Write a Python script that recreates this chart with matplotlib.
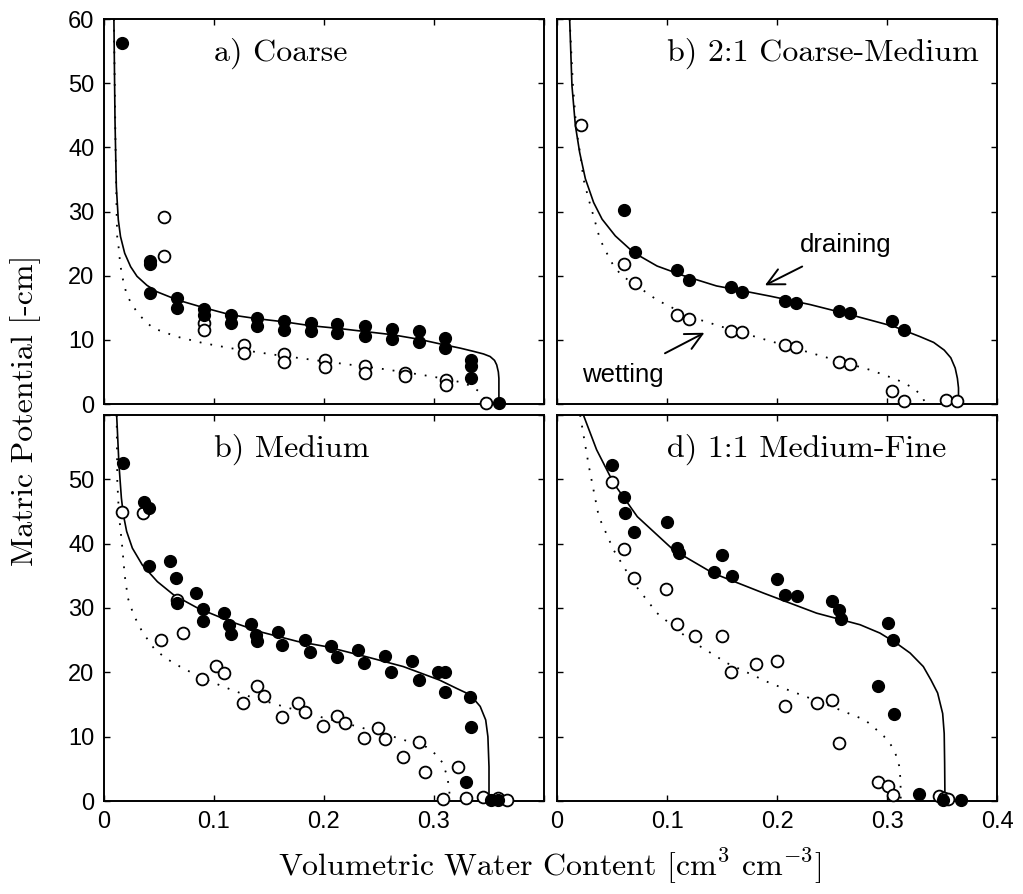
import matplotlib
matplotlib.use("Agg")
import matplotlib.pyplot as plt

plt.rcParams['mathtext.fontset'] = 'cm'
plt.rcParams['axes.unicode_minus'] = False

# ---------------- data ----------------
# a) Coarse
a_dr_x = [0.0167, 0.042, 0.042, 0.042, 0.066, 0.066, 0.091, 0.091, 0.115, 0.115, 0.139, 0.139,
          0.164, 0.164, 0.188, 0.188, 0.212, 0.212, 0.237, 0.237, 0.262, 0.262, 0.286, 0.286,
          0.310, 0.310, 0.334, 0.334, 0.334, 0.359]
a_dr_y = [56.2, 22.3, 21.8, 17.3, 16.5, 14.9, 14.8, 13.9, 13.9, 12.7, 13.4, 12.1,
          13.0, 11.6, 12.6, 11.3, 12.4, 11.1, 12.1, 10.6, 11.7, 10.2, 11.3, 9.7,
          10.3, 8.8, 6.9, 5.9, 4.0, 0.15]
a_wt_x = [0.0545, 0.0545, 0.091, 0.091, 0.127, 0.127, 0.164, 0.164, 0.201, 0.201, 0.237, 0.237,
          0.274, 0.274, 0.311, 0.311, 0.347]
a_wt_y = [29.2, 23.1, 12.7, 11.6, 9.2, 7.9, 7.8, 6.6, 6.9, 5.8, 6.0, 4.9,
          4.9, 4.3, 3.8, 3.0, 0.15]
a_fit_dr_x = [0.009, 0.010, 0.0112, 0.013, 0.015, 0.0188, 0.0242, 0.030, 0.039, 0.048, 0.067, 0.091,
              0.115, 0.139, 0.164, 0.188, 0.212, 0.237, 0.262, 0.286, 0.310, 0.324, 0.336, 0.345,
              0.351, 0.355, 0.357, 0.3585, 0.359, 0.359]
a_fit_dr_y = [60, 44.2, 33.9, 28.7, 26.1, 23.5, 21.4, 19.9, 18.5, 17.5, 16.2, 15.0,
              13.9, 13.3, 12.8, 12.2, 11.8, 11.3, 10.8, 10.1, 9.2, 8.7, 8.2, 7.8,
              7.4, 6.8, 6.1, 5.0, 4.0, 0.0]
a_fit_wt_x = [0.009, 0.0105, 0.0115, 0.012, 0.0136, 0.0145, 0.016, 0.018, 0.0206, 0.025, 0.031,
              0.038, 0.045, 0.066, 0.090, 0.115, 0.154, 0.202, 0.248, 0.287, 0.311, 0.324, 0.334,
              0.343, 0.347, 0.348]
a_fit_wt_y = [60, 40.0, 29.7, 26.1, 24.0, 22.2, 20.4, 18.8, 17.1, 15.6, 14.1,
              12.8, 11.8, 10.5, 9.5, 8.7, 7.7, 6.6, 5.6, 4.6, 3.9, 3.4, 2.8,
              1.7, 0.6, 0.0]

# b) 2:1 Coarse-Medium
b_dr_x = [0.0606, 0.071, 0.109, 0.120, 0.158, 0.168, 0.2076, 0.217, 0.256, 0.266, 0.3045, 0.315]
b_dr_y = [30.2, 23.7, 20.9, 19.4, 18.2, 17.4, 16.1, 15.7, 14.5, 14.2, 13.0, 11.6]
b_wt_x = [0.022, 0.0606, 0.071, 0.109, 0.120, 0.158, 0.168, 0.2076, 0.217, 0.256, 0.266,
          0.3045, 0.315, 0.354, 0.364]
b_wt_y = [43.5, 21.8, 18.9, 13.9, 13.3, 11.4, 11.2, 9.2, 8.9, 6.5, 6.3, 2.0, 0.4, 0.7, 0.4]
b_fit_dr_x = [0.0115, 0.0136, 0.0167, 0.0206, 0.0258, 0.0333, 0.041, 0.053, 0.0697, 0.091, 0.115,
              0.145, 0.170, 0.194, 0.230, 0.267, 0.306, 0.330, 0.3424, 0.352, 0.358, 0.362, 0.364,
              0.365, 0.365]
b_fit_dr_y = [60, 49.6, 43.4, 39.2, 35.1, 31.4, 28.8, 26.2, 23.6, 21.5, 20.0,
              18.4, 17.6, 16.8, 15.5, 13.9, 12.1, 10.5, 9.6, 8.4, 7.2, 5.6, 4.0,
              2.5, 0.0]
b_fit_wt_x = [0.0115, 0.0145, 0.0176, 0.0218, 0.024, 0.0288, 0.034, 0.039, 0.045, 0.0515, 0.059,
              0.0727, 0.091, 0.121, 0.158, 0.200, 0.242, 0.285, 0.309, 0.324, 0.332, 0.335]
b_fit_wt_y = [60, 49.6, 42.8, 38.2, 35.1, 31.9, 28.8, 25.7, 23.6, 21.5, 20.0,
              18.4, 16.2, 13.6, 11.6, 9.5, 7.4, 5.3, 3.8, 2.5, 1.2, 0.0]

# c) Medium
c_dr_x = [0.017, 0.036, 0.041, 0.041, 0.060, 0.065, 0.066, 0.084, 0.090, 0.090, 0.109, 0.114, 0.115,
          0.134, 0.138, 0.139, 0.158, 0.162, 0.183, 0.187, 0.206, 0.2115, 0.231, 0.236, 0.255, 0.261,
          0.280, 0.286, 0.304, 0.310, 0.310, 0.333, 0.334, 0.329, 0.352, 0.358]
c_dr_y = [52.5, 46.5, 45.5, 36.6, 37.3, 34.6, 30.7, 32.4, 29.8, 28.0, 29.3, 27.4, 26.0,
          27.5, 25.8, 24.9, 26.2, 24.2, 25.0, 23.2, 24.1, 22.4, 23.4, 21.4, 22.5, 20.1,
          21.7, 18.8, 20.1, 20.1, 17.0, 16.2, 11.5, 3.0, 0.15, 0.15]
c_wt_x = [0.016, 0.035, 0.066, 0.052, 0.072, 0.089, 0.102, 0.109, 0.126, 0.139, 0.145, 0.162,
          0.176, 0.183, 0.199, 0.212, 0.219, 0.236, 0.249, 0.255, 0.272, 0.286, 0.292, 0.322,
          0.308, 0.329, 0.345, 0.358, 0.366]
c_wt_y = [45.0, 44.8, 31.2, 25.1, 26.1, 18.9, 21.0, 19.9, 15.3, 17.9, 16.3, 13.0,
          15.3, 13.9, 11.7, 13.2, 12.2, 9.8, 11.3, 9.7, 6.9, 9.1, 4.5, 5.3,
          0.25, 0.5, 0.6, 0.4, 0.15]
c_fit_dr_x = [0.0115, 0.0136, 0.0158, 0.0176, 0.0206, 0.0258, 0.0348, 0.0485, 0.0636, 0.085, 0.115,
              0.142, 0.176, 0.202, 0.239, 0.272, 0.305, 0.3206, 0.333, 0.342, 0.347, 0.349, 0.350,
              0.350]
c_fit_dr_y = [60, 52.3, 47.1, 44.5, 41.9, 39.3, 36.7, 34.1, 32.0, 30.0, 27.9,
              26.3, 24.8, 24.0, 22.4, 20.9, 18.8, 17.5, 16.5, 14.7, 12.6, 10.0, 5.3,
              0.0]
c_fit_wt_x = [0.0115, 0.0121, 0.0136, 0.0167, 0.0188, 0.0218, 0.027, 0.0348, 0.0455, 0.056, 0.069,
              0.087, 0.108, 0.133, 0.163, 0.196, 0.230, 0.263, 0.293, 0.302, 0.308, 0.312, 0.314,
              0.314]
c_fit_wt_y = [60, 49.7, 44.5, 39.3, 35.1, 31.5, 28.9, 26.3, 23.7, 22.2, 20.9,
              19.3, 17.8, 16.2, 14.7, 13.1, 11.6, 10.0, 8.4, 7.2, 5.9, 3.8, 1.7,
              0.0]

# d) 1:1 Medium-Fine
d_dr_x = [0.050, 0.061, 0.062, 0.070, 0.100, 0.109, 0.111, 0.150, 0.143, 0.159, 0.200, 0.2076,
          0.218, 0.250, 0.256, 0.258, 0.3006, 0.305, 0.292, 0.306, 0.329, 0.351, 0.367]
d_dr_y = [52.2, 47.2, 44.7, 41.8, 43.3, 39.3, 38.6, 38.2, 35.6, 34.9, 34.5, 32.0,
          31.9, 31.1, 29.7, 28.3, 27.6, 25.1, 17.8, 13.6, 1.1, 0.15, 0.15]
d_wt_x = [0.050, 0.061, 0.070, 0.099, 0.109, 0.125, 0.150, 0.158, 0.181, 0.200, 0.2076, 0.236,
          0.250, 0.256, 0.292, 0.3006, 0.305, 0.347, 0.352, 0.355]
d_wt_y = [49.6, 39.1, 34.7, 33.0, 27.5, 25.7, 25.7, 20.1, 21.3, 21.8, 14.8, 15.2,
          15.7, 9.0, 3.0, 2.3, 0.9, 0.7, 0.4, 0.3]
d_fit_dr_x = [0.024, 0.036, 0.0515, 0.073, 0.106, 0.142, 0.188, 0.236, 0.2755, 0.2936, 0.3088,
              0.321, 0.333, 0.340, 0.346, 0.3506, 0.352, 0.3524, 0.3527]
d_fit_dr_y = [60, 54.6, 49.4, 44.2, 39.0, 35.4, 32.3, 29.2, 27.4, 26.1, 24.5,
              23.0, 20.9, 18.8, 16.8, 13.6, 10.5, 5.9, 0.0]
d_fit_wt_x = [0.021, 0.029, 0.038, 0.0515, 0.070, 0.091, 0.121, 0.155, 0.194, 0.242, 0.280, 0.289,
              0.297, 0.3036, 0.308, 0.311, 0.312, 0.3124, 0.3125]
d_fit_wt_y = [60, 52.0, 44.2, 39.0, 33.8, 29.2, 25.0, 21.4, 18.3, 15.2, 12.6, 11.3,
              10.1, 8.7, 7.2, 5.5, 3.8, 2.0, 0.0]

titles = ["a) Coarse", "b) 2:1 Coarse-Medium", "b) Medium", "d) 1:1 Medium-Fine"]
panels = [
    (a_dr_x, a_dr_y, a_wt_x, a_wt_y, a_fit_dr_x, a_fit_dr_y, a_fit_wt_x, a_fit_wt_y),
    (b_dr_x, b_dr_y, b_wt_x, b_wt_y, b_fit_dr_x, b_fit_dr_y, b_fit_wt_x, b_fit_wt_y),
    (c_dr_x, c_dr_y, c_wt_x, c_wt_y, c_fit_dr_x, c_fit_dr_y, c_fit_wt_x, c_fit_wt_y),
    (d_dr_x, d_dr_y, d_wt_x, d_wt_y, d_fit_dr_x, d_fit_dr_y, d_fit_wt_x, d_fit_wt_y),
]
xticks_all = [0, 0.1, 0.2, 0.3, 0.4]
yticks_all = [0, 10, 20, 30, 40, 50, 60]

# ---------------- figure ----------------
W, H = 1023, 894
fig = plt.figure(figsize=(W / 100, H / 100), dpi=100)
lefts = [104, 557]
tops = [19, 415]
bottoms = [404, 801]
pw = 440

serif = 'cmr10'
sans = 'Liberation Sans'

axes = []
for i in range(4):
    r, c = divmod(i, 2)
    l = lefts[c] / W
    b = (H - bottoms[r]) / H
    h = (bottoms[r] - tops[r]) / H
    ax = fig.add_axes([l, b, pw / W, h])
    axes.append(ax)
    dx, dy, wx, wy, fdx, fdy, fwx, fwy = panels[i]
    ax.plot(fdx, fdy, color='black', lw=1.2, zorder=2, solid_joinstyle='round')
    ax.plot(fwx, fwy, color='black', lw=1.3, linestyle=(0, (1, 5)), zorder=2)
    ax.plot(wx, wy, linestyle='none', marker='o', ms=8.5, mfc='white', mec='black', mew=1.3,
            zorder=3, clip_on=False)
    ax.plot(dx, dy, linestyle='none', marker='o', ms=8.5, mfc='black', mec='black', mew=1.0,
            zorder=4, clip_on=False)
    ax.set_xlim(0, 0.4)
    ax.set_ylim(0, 60)
    ax.set_xticks(xticks_all)
    ax.set_yticks(yticks_all)
    ax.tick_params(direction='in', top=True, right=True, length=4, width=1.0,
                   labelsize=17, pad=7)
    for s in ax.spines.values():
        s.set_linewidth(1.4)
    ax.text(0.1, 53.5, titles[i], fontsize=23, family=serif, ha='left', va='baseline')

    if r == 0:
        ax.set_xticklabels([])
    else:
        if c == 0:
            ax.set_xticklabels(['0', '0.1', '0.2', '0.3', ''])
        else:
            ax.set_xticklabels(['0', '0.1', '0.2', '0.3', '0.4'])
    if c == 1:
        ax.set_yticklabels([])
    else:
        if r == 0:
            ax.set_yticklabels([str(v) for v in yticks_all])
        else:
            ax.set_yticklabels([str(v) for v in yticks_all[:-1]] + [''])
    for lab in ax.get_xticklabels() + ax.get_yticklabels():
        lab.set_fontfamily(sans)

# annotations in panel b
axb = axes[1]
arrow_kw = dict(arrowstyle='->, head_length=0.6, head_width=0.3', color='black', lw=1.4,
                shrinkA=11, shrinkB=0, mutation_scale=20)
axb.annotate('draining', xy=(0.189, 18.5), xytext=(0.262, 24.8), fontsize=18.5, family=sans,
             ha='center', va='center', arrowprops=arrow_kw)
axb.annotate('wetting', xy=(0.134, 11.1), xytext=(0.060, 4.5), fontsize=18.5, family=sans,
             ha='center', va='center', arrowprops=arrow_kw)

fig.text(550 / W, 1 - 866 / H, r'Volumetric Water Content [cm$^3$ cm$^{-3}$]', fontsize=23,
         family=serif, ha='center', va='center')
fig.text(26 / W, 1 - 410 / H, 'Matric Potential [-cm]', fontsize=23, family=serif,
         ha='center', va='center', rotation=90)

fig.savefig('out.png', dpi=100)
